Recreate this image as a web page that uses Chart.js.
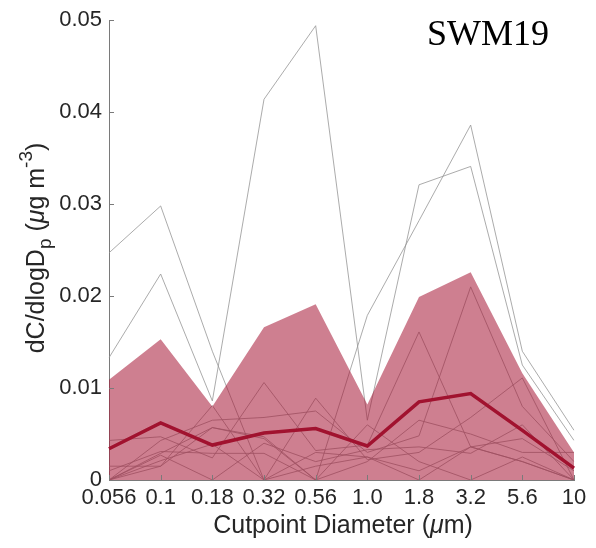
<!DOCTYPE html>
<html>
<head>
<meta charset="utf-8">
<script src="https://cdn.jsdelivr.net/npm/chart.js@4.4.0/dist/chart.umd.min.js"></script>
<style>
    html, body { margin: 0; padding: 0; background: #fff; }
    canvas { display: block; }
</style>
</head>
<body>
<canvas id="sizeChart" width="596" height="548"></canvas>
<script>
/* ================================
   Data
================================ */
const cutpoints = ["0.056", "0.1", "0.18", "0.32", "0.56", "1.0", "1.8", "3.2", "5.6", "10"];
const yTickLabels = ["0", "0.01", "0.02", "0.03", "0.04", "0.05"];

const meanValues = [0.0034, 0.0062, 0.0038, 0.0051, 0.0056, 0.0037, 0.0085, 0.0094, 0.0054, 0.0013];
const upperValues = [0.0109, 0.0153, 0.0080, 0.0166, 0.0191, 0.0082, 0.0199, 0.0226, 0.0116, 0.0030];

const sample1 = [0.0247, 0.0298, 0.0140, 0.0000, 0.0030, 0.0025, 0.0010, 0.0036, 0.0020, 0.0000];
const sample2 = [0.0133, 0.0224, 0.0086, 0.0414, 0.0494, 0.0065, 0.0321, 0.0341, 0.0125, 0.0043];
const sample3 = [0.0000, 0.0029, 0.0057, 0.0047, 0.0000, 0.0179, 0.0282, 0.0386, 0.0140, 0.0054];
const sample4 = [0.0043, 0.0047, 0.0024, 0.0106, 0.0032, 0.0038, 0.0161, 0.0036, 0.0020, 0.0000];
const sample5 = [0.0000, 0.0043, 0.0065, 0.0068, 0.0075, 0.0030, 0.0048, 0.0210, 0.0080, 0.0020];
const sample6 = [0.0015, 0.0015, 0.0081, 0.0000, 0.0089, 0.0022, 0.0030, 0.0068, 0.0111, 0.0000];
const sample7 = [0.0010, 0.0031, 0.0029, 0.0029, 0.0000, 0.0020, 0.0065, 0.0050, 0.0030, 0.0030];
const sample8 = [0.0000, 0.0027, 0.0000, 0.0040, 0.0020, 0.0033, 0.0036, 0.0029, 0.0060, 0.0000];
const sample9 = [0.0000, 0.0021, 0.0039, 0.0000, 0.0015, 0.0025, 0.0000, 0.0036, 0.0045, 0.0010];
const sample10 = [0.0000, 0.0015, 0.0057, 0.0045, 0.0000, 0.0060, 0.0020, 0.0000, 0.0025, 0.0000];

const samples = [sample1, sample2, sample3, sample4, sample5, sample6, sample7, sample8, sample9, sample10];

const AXIS_FONT = "Liberation Sans, Arial, Helvetica, sans-serif";
const TEXT_COLOR = "#262626";

/* ================================
   Rich text helper (sub / superscripts)
================================ */
function drawRichText(ctx, parts, cx, cy, size) {
    const widths = parts.map(p => {
        ctx.font = (p.italic ? "italic " : "") + Math.round(size * (p.scale || 1)) + "px " + AXIS_FONT;
        return ctx.measureText(p.t).width;
    });
    const total = widths.reduce((a, b) => a + b, 0);
    let x = cx - total / 2;
    ctx.textBaseline = "middle";
    ctx.textAlign = "left";
    parts.forEach((p, i) => {
        ctx.font = (p.italic ? "italic " : "") + Math.round(size * (p.scale || 1)) + "px " + AXIS_FONT;
        ctx.fillText(p.t, x, cy + (p.dy || 0));
        x += widths[i];
    });
}

/* ================================
   Axes decoration plugin
================================ */
const decorPlugin = {
    id: "decor",
    afterDraw(chart) {
        const ctx = chart.ctx;
        const xs = chart.scales.x;
        const ys = chart.scales.y;
        const area = chart.chartArea;

        ctx.save();
        // inward ticks
        ctx.strokeStyle = "#7a7a7a";
        ctx.lineWidth = 1;
        ctx.beginPath();
        yTickLabels.forEach(label => {
            const py = Math.round(ys.getPixelForValue(Number(label))) + 0.5;
            ctx.moveTo(area.left, py);
            ctx.lineTo(area.left + 5, py);
        });
        cutpoints.forEach((c, i) => {
            const px = Math.round(xs.getPixelForValue(i)) + 0.5;
            ctx.moveTo(px, area.bottom);
            ctx.lineTo(px, area.bottom - 5);
        });
        ctx.stroke();

        ctx.fillStyle = TEXT_COLOR;

        // x title
        drawRichText(ctx, [
            { t: "Cutpoint Diameter (" },
            { t: "\u03bc", italic: true },
            { t: "m)" }
        ], 343, 526, 25);

        // y title
        ctx.save();
        ctx.translate(37, 248);
        ctx.rotate(-Math.PI / 2);
        drawRichText(ctx, [
            { t: "dC/dlogD" },
            { t: "p", scale: 0.75, dy: 9 },
            { t: " (" },
            { t: "\u03bc", italic: true },
            { t: "g m" },
            { t: "-3", scale: 0.75, dy: -10 },
            { t: ")" }
        ], 0, 0, 25);
        ctx.restore();

        // site label
        ctx.font = "36px 'Liberation Serif', 'Times New Roman', serif";
        ctx.fillStyle = "#000";
        ctx.textAlign = "left";
        ctx.textBaseline = "alphabetic";
        ctx.fillText("SWM19", 427, 45);
        ctx.restore();
    }
};

/* ================================
   Datasets
================================ */
function buildDatasets() {
    const sets = samples.map((s, i) => ({
        label: "sample " + (i + 1),
        data: s,
        borderColor: "#969696",
        borderWidth: 0.8,
        pointRadius: 0,
        fill: false,
        order: 3
    }));

    sets.push({
        label: "range",
        data: upperValues,
        borderWidth: 0,
        borderColor: "rgba(0,0,0,0)",
        backgroundColor: "rgba(165, 22, 52, 0.55)",
        pointRadius: 0,
        fill: "origin",
        order: 2
    });

    sets.push({
        label: "mean",
        data: meanValues,
        borderColor: "#a1122f",
        borderWidth: 3.5,
        pointRadius: 0,
        fill: false,
        order: 1
    });

    return sets;
}

/* ================================
   Chart
================================ */
function initChart() {
    const ctx = document.getElementById("sizeChart");

    new Chart(ctx, {
        type: "line",
        data: {
            labels: cutpoints,
            datasets: buildDatasets()
        },
        plugins: [decorPlugin],
        options: {
            responsive: false,
            animation: false,
            layout: { padding: { top: 15, right: 22, left: 0, bottom: 0 } },
            elements: { line: { tension: 0 } },
            plugins: {
                legend: { display: false },
                tooltip: { enabled: false }
            },
            scales: {
                x: {
                    type: "category",
                    offset: false,
                    grid: { display: false, drawTicks: false },
                    border: { display: true, color: "#7a7a7a", width: 1 },
                    ticks: {
                        autoSkip: false,
                        maxRotation: 0,
                        padding: 5,
                        color: TEXT_COLOR,
                        font: { family: AXIS_FONT, size: 22 }
                    },
                    afterFit(scale) { scale.height = 68; }
                },
                y: {
                    min: 0,
                    max: 0.05,
                    grid: { display: false, drawTicks: false },
                    border: { display: true, color: "#7a7a7a", width: 1 },
                    ticks: {
                        stepSize: 0.01,
                        padding: 7,
                        color: TEXT_COLOR,
                        font: { family: AXIS_FONT, size: 22 },
                        callback: (v, i) => yTickLabels[i]
                    },
                    afterFit(scale) { scale.width = 109; }
                }
            }
        }
    });
}

document.addEventListener("DOMContentLoaded", initChart);
</script>
</body>
</html>
